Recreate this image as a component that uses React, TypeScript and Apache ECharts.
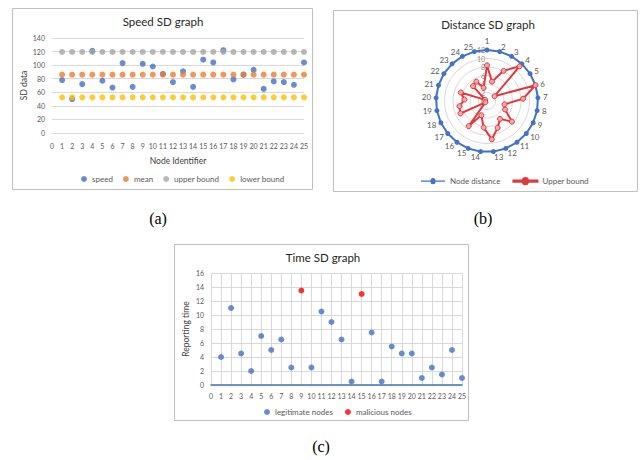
import React, { useEffect, useRef } from 'react';
import * as echarts from 'echarts';

// ---------- Data ----------
const nodes = [1, 2, 3, 4, 5, 6, 7, 8, 9, 10, 11, 12, 13, 14, 15, 16, 17, 18, 19, 20, 21, 22, 23, 24, 25];
const speed = [78, 50, 72, 121, 77, 67, 103, 68, 102, 98, 87, 75, 91, 68, 108, 104, 122, 79, 86, 93, 65, 76, 75, 71, 104];
const meanVals = [86, 86, 86, 86, 86, 86, 86, 86, 86, 86, 86, 86, 86, 86, 86, 86, 86, 86, 86, 86, 86, 86, 86, 86, 86];
const upperVals = [119.5, 119.5, 119.5, 119.5, 119.5, 119.5, 119.5, 119.5, 119.5, 119.5, 119.5, 119.5, 119.5, 119.5, 119.5, 119.5, 119.5, 119.5, 119.5, 119.5, 119.5, 119.5, 119.5, 119.5, 119.5];
const lowerVals = [52.5, 52.5, 52.5, 52.5, 52.5, 52.5, 52.5, 52.5, 52.5, 52.5, 52.5, 52.5, 52.5, 52.5, 52.5, 52.5, 52.5, 52.5, 52.5, 52.5, 52.5, 52.5, 52.5, 52.5, 52.5];

const radarLabels = ['1', '2', '3', '4', '5', '6', '7', '8', '9', '10', '11', '12', '13', '14', '15', '16', '17', '18', '19', '20', '21', '22', '23', '24', '25'];
const nodeDistance = [12, 12, 12, 12, 12, 12, 12, 12, 12, 12, 12, 12, 12, 12, 12, 12, 12, 12, 12, 12, 12, 12, 12, 12, 12];
const distUpper = [8.4, 4.7, 8.1, 11.2, 2.1, 12, 8.5, 4.2, 4.7, 7.6, 5.2, 6.8, 9.1, 6.3, 3.6, 7.3, 0.5, 6.9, 6.6, 5.3, 6.5, 0.5, 4.8, 5.2, 3.2];

const legitX = [1, 2, 3, 4, 5, 6, 7, 8, 10, 11, 12, 13, 14, 16, 17, 18, 19, 20, 21, 22, 23, 24, 25];
const legitY = [4, 11, 4.5, 2, 7, 5, 6.5, 2.5, 2.5, 10.5, 9, 6.5, 0.5, 7.5, 0.5, 5.5, 4.5, 4.5, 1, 2.5, 1.5, 5, 1];
const malX = [9, 15];
const malY = [13.5, 13];

const FONT = 'Lato, "Open Sans", sans-serif';
const TXT = '#595959';
const GRID = '#D9D9D9';
const BLUE = '#4472C4';
const RED = '#E0393E';
const LINE_ICON = 'path://M0,4.4 H9.5 A2.5,2.5,0,1,1,14.5,4.4 H24 V5.6 H14.5 A2.5,2.5,0,1,1,9.5,5.6 H0 Z';

export default function App() {
  const ref = useRef<HTMLDivElement>(null);
  useEffect(() => {
    if (!ref.current) return;
    const chart = echarts.init(ref.current, null, { renderer: 'svg' });
    // radar indicators are laid out counter-clockwise; reorder to get clockwise like the source
    const order = [0, ...Array.from({ length: radarLabels.length - 1 }, (_, k) => radarLabels.length - 1 - k)];

    const axisLabelStyle = { fontSize: 7, color: TXT, fontFamily: FONT };
    const serif = '"Liberation Serif", "Times New Roman", serif';

    const option: any = {
      animation: false,
      backgroundColor: '#fff',
      textStyle: { fontFamily: FONT },
      graphic: [
        { type: 'rect', z: -10, shape: { x: 12.5, y: 8.5, width: 300, height: 181 }, style: { fill: 'none', stroke: '#BFBFBF', lineWidth: 1 } },
        { type: 'rect', z: -10, shape: { x: 333.5, y: 10.5, width: 304, height: 181 }, style: { fill: 'none', stroke: '#BFBFBF', lineWidth: 1 } },
        { type: 'rect', z: -10, shape: { x: 174.5, y: 244.5, width: 294, height: 176 }, style: { fill: 'none', stroke: '#BFBFBF', lineWidth: 1 } },
        { type: 'text', x: 163, y: 21, style: { text: 'Speed SD graph', fontSize: 11.5, fontFamily: FONT, fill: '#262626', align: 'center', verticalAlign: 'middle' } },
        { type: 'text', x: 488, y: 24, style: { text: 'Distance SD graph', fontSize: 11.5, fontFamily: FONT, fill: '#262626', align: 'center', verticalAlign: 'middle' } },
        { type: 'text', x: 323, y: 257, style: { text: 'Time SD graph', fontSize: 11.5, fontFamily: FONT, fill: '#262626', align: 'center', verticalAlign: 'middle' } },
        { type: 'text', x: 158, y: 218, style: { text: '(a)', fontSize: 16, fontFamily: serif, fill: '#000', align: 'center', verticalAlign: 'middle' } },
        { type: 'text', x: 483, y: 218, style: { text: '(b)', fontSize: 16, fontFamily: serif, fill: '#000', align: 'center', verticalAlign: 'middle' } },
        { type: 'text', x: 321, y: 446, style: { text: '(c)', fontSize: 16, fontFamily: serif, fill: '#000', align: 'center', verticalAlign: 'middle' } },
      ],
      legend: [
        {
          data: ['speed', 'mean', 'upper bound', 'lower bound'],
          left: 81, top: 175, icon: 'circle', itemWidth: 6, itemHeight: 6, itemGap: 10, padding: 0,
          textStyle: { fontSize: 8, color: TXT, fontFamily: FONT },
        },
        {
          data: [
            { name: 'Node distance', icon: LINE_ICON },
            { name: 'Upper bound', icon: LINE_ICON },
          ],
          left: 421, top: 177, itemWidth: 24, itemHeight: 10, itemGap: 12, padding: 0,
          textStyle: { fontSize: 8, color: TXT, fontFamily: FONT },
        },
        {
          data: ['legitimate nodes', 'malicious nodes'],
          left: 264, top: 408, icon: 'circle', itemWidth: 6, itemHeight: 6, itemGap: 12, padding: 0,
          textStyle: { fontSize: 8, color: TXT, fontFamily: FONT },
        },
      ],
      grid: [
        { left: 52, top: 38, width: 252, height: 95 },
        { left: 211, top: 273, width: 251, height: 112 },
      ],
      xAxis: [
        {
          gridIndex: 0, type: 'value', min: 0, max: 25, interval: 1,
          axisLine: { lineStyle: { color: GRID } }, axisTick: { show: false }, splitLine: { show: false },
          axisLabel: { ...axisLabelStyle, margin: 9 },
          name: 'Node Identifier', nameLocation: 'middle', nameGap: 23,
          nameTextStyle: { fontSize: 8.5, color: '#404040', fontFamily: FONT },
        },
        {
          gridIndex: 1, type: 'value', min: 0, max: 25, interval: 1,
          axisLine: { lineStyle: { color: BLUE, width: 1.5 } }, axisTick: { show: false },
          splitLine: { show: true, lineStyle: { color: GRID } },
          axisLabel: { ...axisLabelStyle, margin: 7 },
        },
      ],
      yAxis: [
        {
          gridIndex: 0, type: 'value', min: 0, max: 140, interval: 20,
          axisLine: { show: false }, axisTick: { show: false },
          splitLine: { lineStyle: { color: GRID } },
          axisLabel: { ...axisLabelStyle, margin: 7 },
          name: 'SD data', nameLocation: 'middle', nameGap: 22,
          nameTextStyle: { fontSize: 8.5, color: '#404040', fontFamily: FONT },
        },
        {
          gridIndex: 1, type: 'value', min: 0, max: 16, interval: 2,
          axisLine: { show: false }, axisTick: { show: false },
          splitLine: { lineStyle: { color: GRID } },
          axisLabel: { ...axisLabelStyle, margin: 7 },
          name: 'Reporting time', nameLocation: 'middle', nameGap: 21,
          nameTextStyle: { fontSize: 8.5, color: '#404040', fontFamily: FONT },
        },
      ],
      radar: {
        center: [487, 101], radius: 51, startAngle: 90, splitNumber: 6, shape: 'circle',
        indicator: order.map((i) => ({ name: radarLabels[i], min: 0, max: 12 })),
        axisName: { color: TXT, fontSize: 8, fontFamily: FONT },
        nameGap: 5,
        splitLine: { lineStyle: { color: GRID } },
        splitArea: { show: false },
        axisLine: { show: false },
      },
      polar: { center: [487, 101], radius: 51 },
      angleAxis: { type: 'value', min: 0, max: 360, startAngle: 90, show: false },
      radiusAxis: {
        type: 'value', min: 0, max: 12, interval: 2,
        axisLine: { show: false }, axisTick: { show: false }, splitLine: { show: false },
        axisLabel: { ...axisLabelStyle, color: '#8C8C8C', margin: 2 },
      },
      series: [
        {
          name: 'speed', type: 'scatter', xAxisIndex: 0, yAxisIndex: 0, symbolSize: 6,
          itemStyle: { color: BLUE }, data: nodes.map((n, i) => [n, speed[i]]),
        },
        {
          name: 'mean', type: 'scatter', xAxisIndex: 0, yAxisIndex: 0, symbolSize: 6,
          itemStyle: { color: '#ED7D31' }, data: nodes.map((n, i) => [n, meanVals[i]]),
        },
        {
          name: 'upper bound', type: 'scatter', xAxisIndex: 0, yAxisIndex: 0, symbolSize: 6,
          itemStyle: { color: '#A5A5A5' }, data: nodes.map((n, i) => [n, upperVals[i]]),
        },
        {
          name: 'lower bound', type: 'scatter', xAxisIndex: 0, yAxisIndex: 0, symbolSize: 6,
          itemStyle: { color: '#FFC000' }, data: nodes.map((n, i) => [n, lowerVals[i]]),
        },
        {
          name: 'Node distance', type: 'radar', radarIndex: 0, symbol: 'circle', symbolSize: 5,
          lineStyle: { color: BLUE, width: 2 }, itemStyle: { color: BLUE },
          data: [{ name: 'Node distance', value: order.map((i) => nodeDistance[i]) }],
        },
        {
          name: 'Upper bound', type: 'radar', radarIndex: 0, symbol: 'circle', symbolSize: 5,
          lineStyle: { color: RED, width: 2 },
          itemStyle: { color: RED, borderColor: RED, borderWidth: 1 },
          data: [{ name: 'Upper bound', value: order.map((i) => distUpper[i]), itemStyle: { color: '#F3A6A6', borderColor: RED } }],
        },
        {
          name: 'legitimate nodes', type: 'scatter', xAxisIndex: 1, yAxisIndex: 1, symbolSize: 6,
          itemStyle: { color: BLUE }, data: legitX.map((x, i) => [x, legitY[i]]),
        },
        {
          name: 'malicious nodes', type: 'scatter', xAxisIndex: 1, yAxisIndex: 1, symbolSize: 6,
          itemStyle: { color: '#FF0000' }, data: malX.map((x, i) => [x, malY[i]]),
        },
      ],
    };
    chart.setOption(option);
    return () => chart.dispose();
  }, []);
  return (
    <div
      ref={ref}
      style={{ position: 'absolute', left: 0, top: 0, width: 641, height: 460, background: '#fff' }}
    />
  );
}
